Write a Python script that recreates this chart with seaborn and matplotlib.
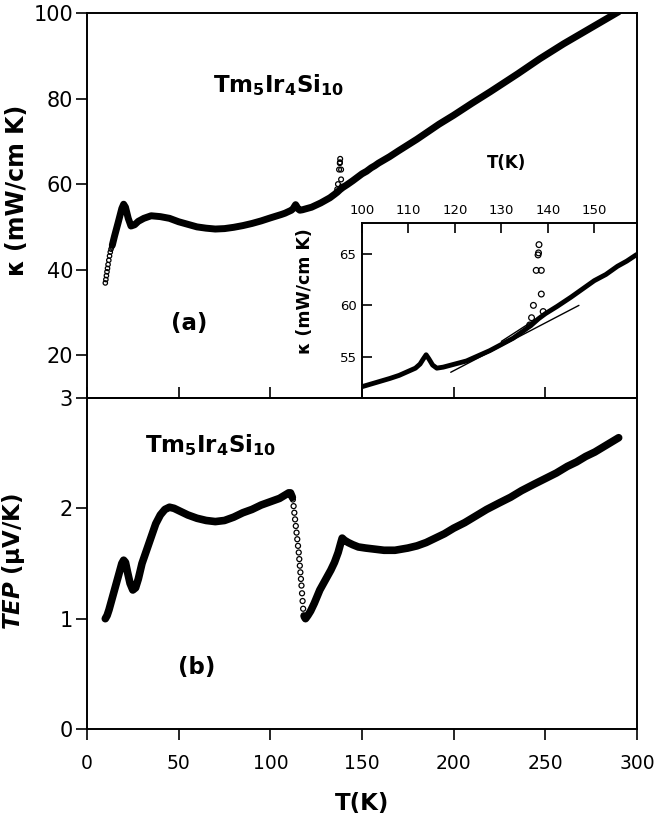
import matplotlib
matplotlib.use("Agg")
import matplotlib.pyplot as plt
import seaborn as sns

# ---------------- data ----------------
# thermal conductivity, dense trace
T_kappa = [13.8, 15, 17, 19, 20, 21, 22.5, 24, 26, 28, 31, 35, 40, 45, 50, 55, 60, 65, 70, 75,
           80, 85, 90, 95, 100, 103, 106, 108, 110, 111.5, 112.5, 113.2, 113.8, 114.4, 115.2,
           116.1, 117.5, 120, 122.5, 125, 127.5, 130, 132.5, 135, 136.5, 138, 139.5, 142, 145,
           147.5, 150, 152.5, 155, 157, 159, 165, 170, 180, 192, 200, 210, 220, 235, 247, 260,
           270, 280, 290]
kappa = [45.7, 47.8, 51.0, 54.3, 55.3, 54.6, 52.0, 50.2, 50.5, 51.3, 52.0, 52.6, 52.4, 52.0, 51.2,
         50.6, 50.0, 49.7, 49.5, 49.6, 49.9, 50.3, 50.8, 51.4, 52.1, 52.5, 52.9, 53.2, 53.6, 53.9,
         54.3, 54.8, 55.2, 54.8, 54.2, 53.9, 54.0, 54.3, 54.6, 55.1, 55.6, 56.2, 56.8, 57.6, 58.1,
         58.7, 59.2, 59.9, 60.8, 61.6, 62.4, 63.0, 63.8, 64.3, 64.9, 66.4, 67.8, 70.5, 74.0, 76.1,
         78.9, 81.6, 85.8, 89.3, 92.8, 95.3, 97.8, 100.3]
# thermal conductivity, sparse low-T points (open circles)
T_kappa_low = [10.0, 10.3, 10.6, 10.9, 11.2, 11.5, 11.9, 12.3, 12.7, 13.1, 13.5]
kappa_low = [36.9, 37.7, 38.6, 39.5, 40.3, 41.2, 42.2, 43.2, 44.1, 44.8, 45.3]
# thermal conductivity, anomaly points near 138 K
T_kappa_spike = [136.1, 136.5, 136.9, 137.5, 137.9, 138.0, 138.1, 138.6, 138.6, 139.0]
kappa_spike = [58.1, 58.8, 60.0, 63.4, 64.9, 65.1, 65.9, 63.4, 61.1, 59.4]
# straight guide lines in the inset
T_fit_a = [130.0, 139.6]
kappa_fit_a = [56.5, 59.3]
T_fit_b = [119.1, 146.7]
kappa_fit_b = [53.5, 60.0]

# thermoelectric power
T_tep_1 = [10, 11, 12, 14, 16, 18, 19, 20, 21, 22, 23.5, 25, 26.5, 28, 30, 32.5, 35, 37.5, 40,
           42.5, 45, 47.5, 50, 55, 60, 65, 70, 75, 80, 85, 90, 95, 100, 105, 108, 110, 111, 112]
tep_1 = [1.00, 1.03, 1.08, 1.20, 1.32, 1.44, 1.50, 1.53, 1.51, 1.43, 1.32, 1.26, 1.28, 1.36, 1.50,
         1.62, 1.74, 1.86, 1.94, 1.99, 2.01, 2.00, 1.98, 1.94, 1.91, 1.89, 1.88, 1.89, 1.92, 1.96,
         1.99, 2.03, 2.06, 2.09, 2.12, 2.14, 2.14, 2.10]
T_tep_drop = [112.3, 112.7, 113.1, 113.5, 113.9, 114.3, 114.7, 115.1, 115.5, 115.8, 116.1, 116.4,
              116.7, 117.0, 117.3, 117.6, 117.9, 118.2]
tep_drop = [2.08, 2.02, 1.96, 1.90, 1.84, 1.78, 1.72, 1.66, 1.60, 1.54, 1.48, 1.42, 1.36, 1.30,
            1.23, 1.16, 1.09, 1.03]
T_tep_2 = [118.5, 119.2, 120.5, 122, 124, 127, 129, 131, 133, 135, 137, 138.5, 139.2, 140.5, 142.5,
           145, 148, 152, 157, 162, 168, 175, 180, 185, 190, 195, 200, 206, 212, 218, 225, 231,
           237, 244, 250, 256, 262, 267, 272, 277, 281, 285, 290]
tep_2 = [1.02, 1.00, 1.03, 1.07, 1.14, 1.26, 1.32, 1.38, 1.44, 1.51, 1.60, 1.69, 1.73, 1.71, 1.69,
         1.67, 1.65, 1.64, 1.63, 1.62, 1.62, 1.64, 1.66, 1.69, 1.73, 1.77, 1.82, 1.87, 1.93, 1.99,
         2.05, 2.10, 2.16, 2.22, 2.27, 2.32, 2.38, 2.42, 2.47, 2.51, 2.55, 2.59, 2.64]

x_ticks = [0, 50, 100, 150, 200, 250, 300]
kappa_ticks = [20, 40, 60, 80, 100]
tep_ticks = [0, 1, 2, 3]
inset_x_ticks = [100, 110, 120, 130, 140, 150]
inset_y_ticks = [55, 60, 65]

# ---------------- style ----------------
sns.set_style("ticks")
plt.rcParams['font.family'] = ['DejaVu Sans']
plt.rcParams['mathtext.fontset'] = 'dejavusans'
plt.rcParams['axes.linewidth'] = 1.4
plt.rcParams['xtick.major.width'] = 1.2
plt.rcParams['ytick.major.width'] = 1.2
for key in ('xtick.color', 'ytick.color', 'axes.edgecolor', 'text.color',
            'axes.labelcolor', 'xtick.labelcolor', 'ytick.labelcolor'):
    plt.rcParams[key] = 'black'

fig = plt.figure(figsize=(6.55, 8.23), dpi=100)
ax1 = fig.add_axes([0.1328, 0.5164, 0.8397, 0.4678])
ax2 = fig.add_axes([0.1328, 0.1142, 0.8397, 0.4022])
axin = fig.add_axes([0.5527, 0.5164, 0.4198, 0.2126])
axin.set_zorder(2)
ax1.set_zorder(3)
ax1.patch.set_alpha(0)

line_kw = dict(color='black', sort=False, estimator=None, legend=False,
               solid_capstyle='round', solid_joinstyle='round')

# ---------------- panel (a) ----------------
sns.lineplot(x=T_kappa, y=kappa, ax=ax1, lw=5.0, **line_kw)
sns.scatterplot(x=T_kappa_low, y=kappa_low, ax=ax1, marker='o', s=10,
                facecolor='none', edgecolor='black', linewidth=0.9, legend=False)
sns.scatterplot(x=T_kappa_spike, y=kappa_spike, ax=ax1, marker='o', s=12,
                facecolor='none', edgecolor='black', linewidth=0.9, legend=False)
ax1.set_xlim(0, 300)
ax1.set_ylim(10, 100)
ax1.set_xticks(x_ticks)
ax1.set_yticks(kappa_ticks)
ax1.tick_params(axis='x', direction='in', length=8, labelbottom=False)
ax1.tick_params(axis='y', direction='out', length=8, labelsize=15, pad=2)
ax1.set_xlabel('')
ax1.set_ylabel('κ (mW/cm K)', fontsize=17, fontweight='bold')
ax1.yaxis.set_label_coords(-0.105, 0.54)
ax1.text(69, 83.2, r'$\mathbf{Tm_5Ir_4Si_{10}}$', fontsize=16.5, ha='left', va='center')
ax1.text(56, 27.5, '(a)', fontsize=16.5, fontweight='bold', ha='center', va='center')

# ---------------- inset ----------------
sns.lineplot(x=T_kappa, y=kappa, ax=axin, lw=3.5, **line_kw)
sns.scatterplot(x=T_kappa_spike, y=kappa_spike, ax=axin, marker='o', s=17,
                facecolor='none', edgecolor='black', linewidth=0.9, legend=False)
sns.lineplot(x=T_fit_a, y=kappa_fit_a, ax=axin, lw=1.0, color='black', legend=False)
sns.lineplot(x=T_fit_b, y=kappa_fit_b, ax=axin, lw=1.0, color='black', legend=False)
axin.set_xlim(100, 159.2)
axin.set_ylim(51, 68)
axin.set_xticks(inset_x_ticks)
axin.set_yticks(inset_y_ticks)
axin.xaxis.tick_top()
axin.xaxis.set_label_position('top')
axin.tick_params(axis='x', direction='in', length=7, labelsize=9.5, pad=4)
axin.tick_params(axis='y', direction='in', length=7, labelsize=9.5, pad=4)
axin.set_xlabel('T(K)', fontsize=12, fontweight='bold')
axin.xaxis.label.set_va('center')
axin.xaxis.set_label_coords(0.527, 1.344)
axin.set_ylabel('κ (mW/cm K)', fontsize=12.5, fontweight='bold')
axin.yaxis.set_label_coords(-0.175, 0.61)
axin.set_facecolor('white')

# ---------------- panel (b) ----------------
sns.lineplot(x=T_tep_1, y=tep_1, ax=ax2, lw=5.5, **line_kw)
sns.lineplot(x=T_tep_2, y=tep_2, ax=ax2, lw=5.5, **line_kw)
sns.scatterplot(x=T_tep_drop, y=tep_drop, ax=ax2, marker='o', s=13,
                facecolor='none', edgecolor='black', linewidth=0.9, legend=False)
ax2.set_xlim(0, 300)
ax2.set_ylim(0, 3)
ax2.set_xticks(x_ticks)
ax2.set_yticks(tep_ticks)
ax2.tick_params(axis='x', direction='out', length=8, labelsize=13.5, pad=10)
ax2.tick_params(axis='y', direction='out', length=8, labelsize=15, pad=2)
ax2.set_xlabel('T(K)', fontsize=16.5, fontweight='bold', labelpad=14)
ax2.set_ylabel(r'$\mathbfit{TEP}$ $\mathbf{(\mu V/K)}$', fontsize=16.5)
ax2.yaxis.set_label_coords(-0.109, 0.505)
ax2.text(31.8, 2.57, r'$\mathbf{Tm_5Ir_4Si_{10}}$', fontsize=16.5, ha='left', va='center')
ax2.text(60, 0.56, '(b)', fontsize=16.5, fontweight='bold', ha='center', va='center')

for ax in (ax1, ax2, axin):
    for s in ax.spines.values():
        s.set_visible(True)
        s.set_color('black')

fig.savefig('out.png', dpi=100)
